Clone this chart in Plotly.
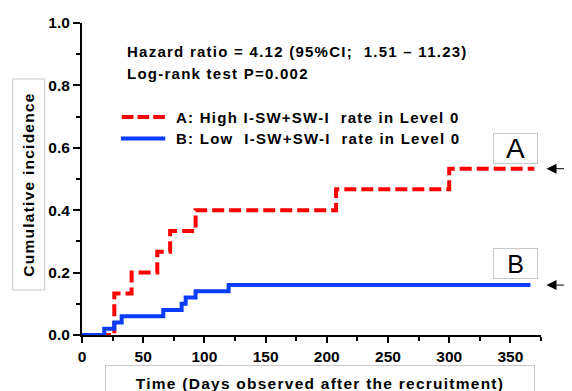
import plotly.graph_objects as go

# ---- data ----
days_A = [0, 26.4, 40.5, 61.5, 72.0, 92.8, 207.6, 300.0, 369.6]
inc_A = [0, 0.133, 0.200, 0.267, 0.333, 0.400, 0.467, 0.533, 0.533]
days_B = [0, 18.2, 26.4, 32.4, 66.4, 81.4, 84.7, 92.8, 119.8, 366.4]
inc_B = [0, 0.020, 0.040, 0.060, 0.080, 0.100, 0.120, 0.140, 0.160, 0.160]

name_A = "A: High I-SW+SW-I  rate in Level 0"
name_B = "B: Low  I-SW+SW-I  rate in Level 0"
x_ticks = [0, 50, 100, 150, 200, 250, 300, 350]
y_ticks = [0.0, 0.2, 0.4, 0.6, 0.8, 1.0]
stats_lines = ["Hazard ratio = 4.12 (95%CI;  1.51 \u2013 11.23)", "Log-rank test P=0.002"]
x_title = "Time (Days observed after the recruitment)"
y_title = "Cumulative incidence"

RED = "#FF0000"
BLUE = "#0A3CFF"
FONT = "Arial, Liberation Sans, sans-serif"
BOX = "#C8C8C8"

# page is offset by the default 8px body margin
OFF = 8
W, H = 572 - OFF, 391 - OFF
PL, PR, PT, PB = 81.7, 541.0, 22.7, 335.0  # plot area in page pixels
L, T = PL - OFF, PT - OFF
R, B = 572 - PR, 391 - PB
pw, ph = PR - PL, PB - PT


def px_x(p):
    return (p - PL) / pw


def px_y(p):
    return (PB - p) / ph


def spaced(s, sp=1.25):
    s = s.replace("  ", "\u00a0 ")
    return f'<span style="letter-spacing:{sp}px">{s}</span>'


fig = go.Figure()
fig.add_trace(go.Scatter(x=days_A, y=inc_A, mode="lines", line_shape="hv",
                         line=dict(color=RED, width=4, dash="12px,5px"),
                         name=name_A, showlegend=False))
fig.add_trace(go.Scatter(x=days_B, y=inc_B, mode="lines", line_shape="hv",
                         line=dict(color=BLUE, width=4),
                         name=name_B, showlegend=False))

tickfont = dict(family=FONT, size=15.5, color="black", weight="bold")
fig.update_xaxes(range=[0, 375], tickvals=x_ticks, ticks="outside", ticklen=6, tickwidth=2,
                 showline=True, linecolor="black", linewidth=2, showgrid=False, zeroline=False,
                 tickfont=tickfont, tickcolor="black",
                 minor=dict(dtick=25, tick0=0, ticks="outside", ticklen=4, tickwidth=2, tickcolor="black"))
fig.update_yaxes(range=[0, 1.0], tickvals=y_ticks, tickformat=".1f", ticks="outside", ticklen=7,
                 tickwidth=2, showline=True, linecolor="black", linewidth=2, showgrid=False,
                 zeroline=False, tickfont=tickfont, tickcolor="black",
                 minor=dict(dtick=0.1, tick0=0, ticks="outside", ticklen=4, tickwidth=2, tickcolor="black"))

annotations = []
txtfont = dict(family=FONT, size=15, color="black", weight="bold")
for line, ypx in zip(stats_lines, [51.5, 73.5]):
    annotations.append(dict(xref="paper", yref="paper", x=px_x(125), y=px_y(ypx), text=spaced(line),
                            showarrow=False, xanchor="left", yanchor="middle", font=txtfont))
# legend
for txt, ypx in [(name_A, 117.3), (name_B, 138.3)]:
    annotations.append(dict(xref="paper", yref="paper", x=px_x(174), y=px_y(ypx),
                            text=spaced(txt), showarrow=False, xanchor="left",
                            yanchor="middle", font=txtfont))
shapes = [
    dict(type="line", xref="paper", yref="paper", x0=px_x(121.5), x1=px_x(165), y0=px_y(116.7),
         y1=px_y(116.7), line=dict(color=RED, width=4, dash="11.7px,4px")),
    dict(type="line", xref="paper", yref="paper", x0=px_x(120.7), x1=px_x(165), y0=px_y(138.3),
         y1=px_y(138.3), line=dict(color=BLUE, width=4)),
]
# group labels in boxes
for lab, ypx, size in [("A", 148.3, 28), ("B", 263.8, 25)]:
    annotations.append(dict(xref="paper", yref="paper", x=px_x(515.2), y=px_y(ypx), text=lab,
                            showarrow=False, xanchor="center", yanchor="middle",
                            width=43, height=29, bordercolor=BOX, borderwidth=1, borderpad=0,
                            font=dict(family=FONT, size=size, color="black")))
# arrows pointing at final values
for yv in [inc_A[-1], inc_B[-1]]:
    annotations.append(dict(xref="paper", yref="y", x=px_x(546.5), y=yv, text="", showarrow=True,
                            ax=32, ay=0, arrowhead=2, arrowsize=2, arrowwidth=1,
                            arrowcolor="black"))
# axis titles in boxes
annotations.append(dict(xref="paper", yref="paper", x=px_x(28), y=px_y(184), text=spaced(y_title),
                        textangle=-90, showarrow=False, xanchor="center", yanchor="middle",
                        width=210, height=31, bordercolor=BOX, borderwidth=1, borderpad=0,
                        font=dict(family=FONT, size=15.5, color="black", weight="bold")))
annotations.append(dict(xref="paper", yref="paper", x=px_x(320), y=px_y(383), text=spaced(x_title),
                        showarrow=False, xanchor="center", yanchor="middle",
                        width=428, height=34, bordercolor=BOX, borderwidth=1, borderpad=0,
                        font=dict(family=FONT, size=15.5, color="black", weight="bold")))

fig.update_layout(width=W, height=H, margin=dict(l=L, r=R, t=T, b=B, autoexpand=False),
                  paper_bgcolor="white", plot_bgcolor="white",
                  annotations=annotations, shapes=shapes, showlegend=False)

fig.write_html("out.html")
